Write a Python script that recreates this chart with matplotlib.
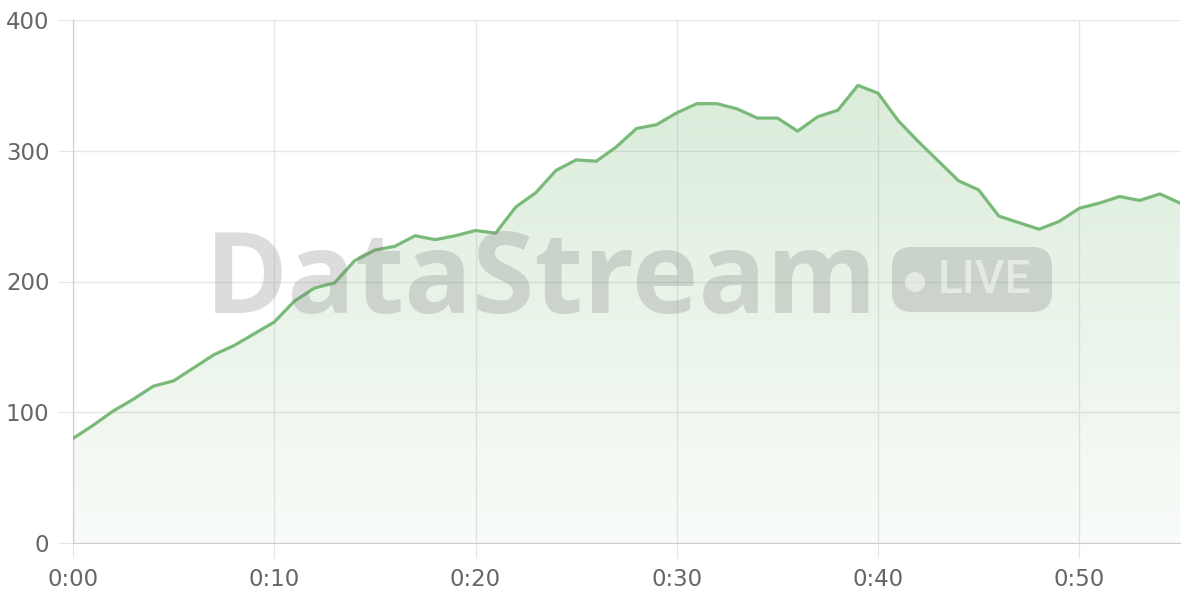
import numpy as np
import matplotlib
matplotlib.use("Agg")
import matplotlib.pyplot as plt
from matplotlib.patches import FancyBboxPatch, Ellipse

plt.rcParams['font.family'] = ['DejaVu Sans']

# minutes since start, one sample per minute
minutes = list(range(56))
values = [80, 90, 101, 110, 120, 124, 134, 144, 151, 160, 169, 185, 195, 199, 216, 224,
          227, 235, 232, 235, 239, 237, 257, 268, 285, 293, 292, 303, 317, 320, 329, 336,
          336, 332, 325, 325, 315, 326, 331, 350, 344, 323, 307, 292, 277, 270, 250, 245,
          240, 246, 256, 260, 265, 262, 267, 260]
xticks = [0, 10, 20, 30, 40, 50]
xticklabels = ['0:00', '0:10', '0:20', '0:30', '0:40', '0:50']
yticks = [0, 100, 200, 300, 400]

green = '#7aba78'

fig = plt.figure(figsize=(12, 6), dpi=100)
ax = fig.add_axes([73 / 1200, 57 / 600, 1107 / 1200, 523 / 600])

x = np.array(minutes)
y = np.array(values)

# gradient fill under the line
grad = np.linspace(0, 1, 256).reshape(-1, 1)
cmap = matplotlib.colors.LinearSegmentedColormap.from_list(
    'g', [(0.47, 0.73, 0.47, 0.05), (0.47, 0.73, 0.47, 0.30)])
im = ax.imshow(grad, cmap=cmap, aspect='auto', origin='lower',
               extent=[0, 55, 0, 400], zorder=1)
poly = ax.fill_between(x, y, 0, color='none')
clip = poly.get_paths()[0]
im.set_clip_path(clip, transform=ax.transData)

ax.plot(x, y, color=green, lw=2.3, zorder=3, solid_joinstyle='round')

ax.set_xlim(0, 55)
ax.set_ylim(0, 400)
ax.set_xticks(xticks)
ax.set_xticklabels(xticklabels)
ax.set_yticks(yticks)
ax.grid(True, color='#e6e6e6', lw=1)
ax.set_axisbelow(True)
for s in ['top', 'right']:
    ax.spines[s].set_visible(False)
for s in ['left', 'bottom']:
    ax.spines[s].set_color('#cccccc')
ax.tick_params(axis='both', colors='#e6e6e6', labelcolor='#666666', labelsize=16.5, length=11)
ax.tick_params(axis='x', pad=7)
ax.tick_params(axis='y', pad=6)

# watermark
ax.text(0.451, 287 / 600, 'DataStream', transform=fig.transFigure, ha='center', va='baseline',
        fontsize=81, fontweight='bold', color='#777777', alpha=0.25, zorder=5,
        family=['Open Sans', 'DejaVu Sans'])
inch = fig.dpi_scale_trans
badge = FancyBboxPatch((8.92, 2.88), 1.6, 0.65,
                       boxstyle='round,pad=0,rounding_size=0.2', transform=inch,
                       facecolor='#777777', alpha=0.25, edgecolor='none', zorder=5)
fig.add_artist(badge)
fig.add_artist(Ellipse((9.15, 3.18), 0.2, 0.2, transform=inch,
                       facecolor='white', alpha=0.5, edgecolor='none', zorder=6))
fig.text(9.84, 3.20, 'LIVE', transform=inch, ha='center', va='center', fontsize=33,
         fontweight='medium', color='white', alpha=0.5, zorder=6,
         family=['Roboto', 'DejaVu Sans'])

fig.savefig('out.png', dpi=100)
